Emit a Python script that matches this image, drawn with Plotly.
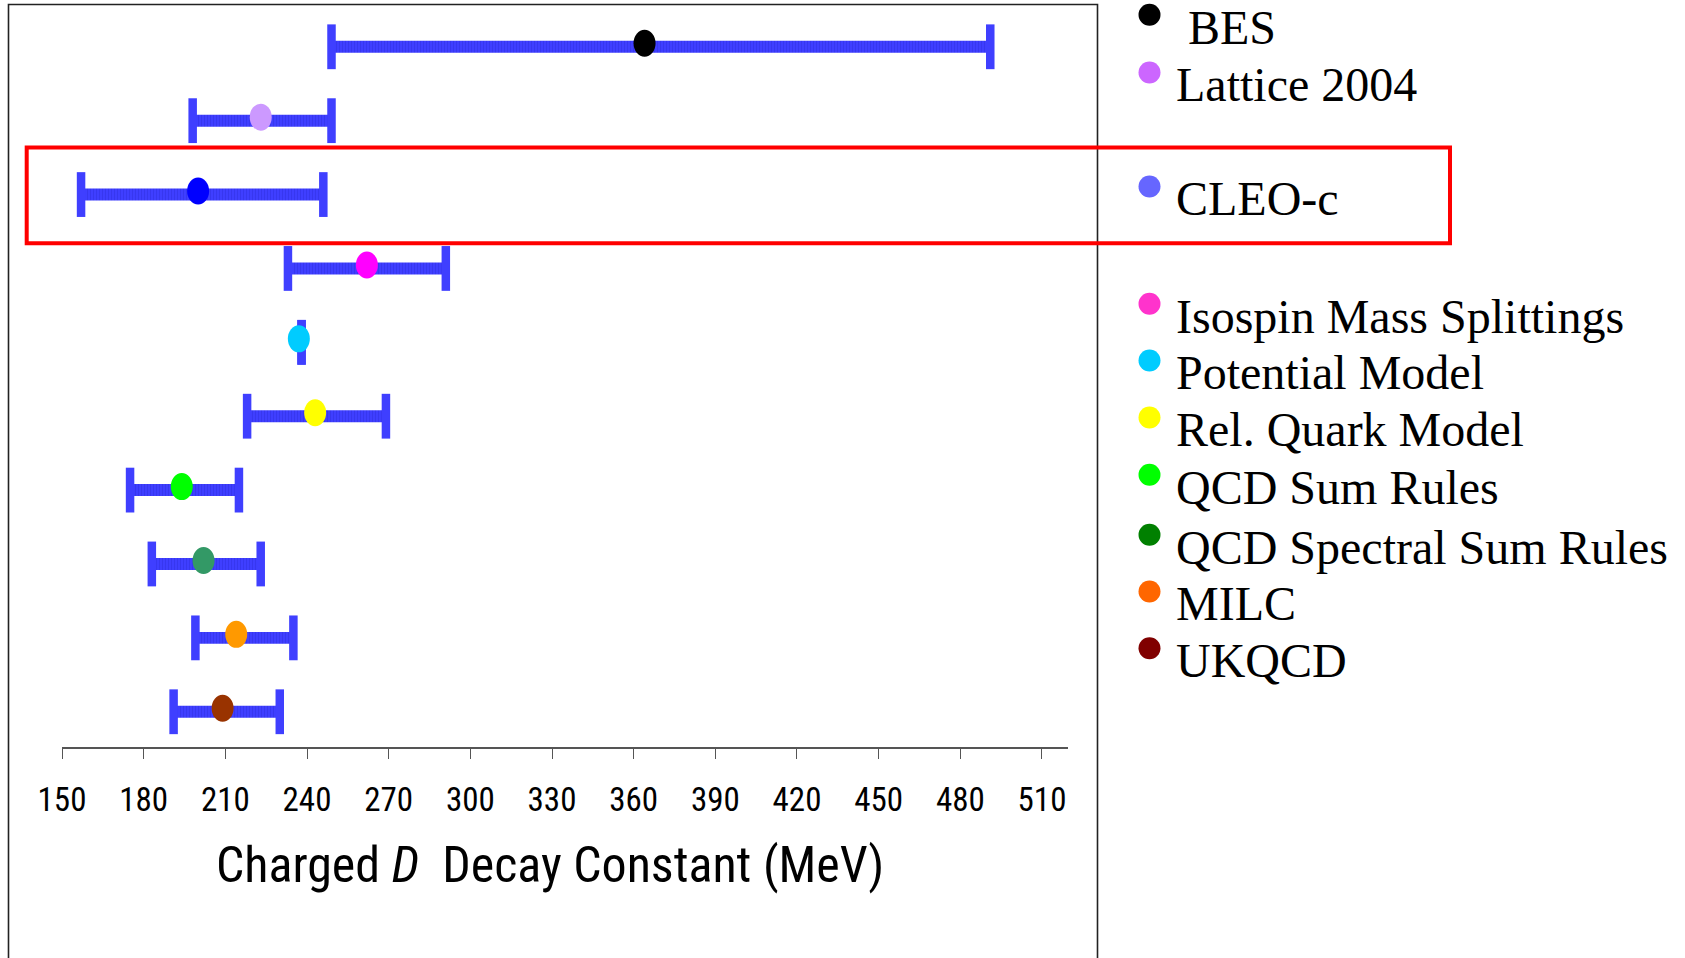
import plotly.graph_objects as go

# ---------------- data ----------------
methods = ["BES", "Lattice 2004", "CLEO-c", "Isospin Mass Splittings",
           "Potential Model", "Rel. Quark Model", "QCD Sum Rules",
           "QCD Spectral Sum Rules", "MILC", "UKQCD"]
central = [364, 223, 200, 262, 237, 243, 194, 202, 214, 209]
lower = [249, 198, 157, 233, 238, 218, 175, 183, 199, 191]
upper = [491, 249, 246, 291, 238, 269, 215, 223, 235, 230]
point_colors = ["#000000", "#CC99FF", "#0000FF", "#FF00FF", "#00CCFF",
                "#FFFF00", "#00FF00", "#339966", "#FF9900", "#993300"]
legend_colors = ["#000000", "#CC66FF", "#6666FF", "#FF33CC", "#00CCFF",
                 "#FFFF00", "#00FF00", "#008000", "#FF6600", "#800000"]
legend_labels = ["\u00a0BES", "Lattice 2004", "CLEO-c", "Isospin Mass Splittings",
                 "Potential Model", "Rel. Quark Model", "QCD Sum Rules",
                 "QCD Spectral Sum Rules", "MILC", "UKQCD"]
tick_values = list(range(150, 511, 30))
x_title = "Charged <i>D</i>\u00a0\u00a0Decay Constant (MeV)"

# ---------------- layout geometry ----------------
W, H = 1685, 958
L, R, T, B = 62, 1068, 4, 747
def px_x(p):
    return (p - L) / (R - L)
def px_y(p):
    return (B - p) / (B - T)

rows = list(range(len(methods)))
BAR_BLUE = "#3F3FFF"
SANS = "Roboto Condensed, Liberation Sans, Arial, sans-serif"
SERIF = "Liberation Serif, Times New Roman, serif"

fig = go.Figure()

# error-bar bodies (hatched blue bars)
fig.add_trace(go.Bar(
    y=rows, x=[u - l for l, u in zip(lower, upper)], base=lower,
    orientation="h", width=0.162,
    marker=dict(color=BAR_BLUE, line=dict(width=0),
                pattern=dict(shape="|", fgcolor="#3030E0", bgcolor=BAR_BLUE,
                             size=3, solidity=0.35)),
    hoverinfo="skip", showlegend=False,
))
# end caps
fig.add_trace(go.Scatter(
    x=lower + upper, y=rows + rows, mode="markers",
    marker=dict(symbol="line-ns", size=32, line=dict(width=8.5, color=BAR_BLUE)),
    hoverinfo="skip", showlegend=False,
))

shapes = []
# central values: vertical ellipses anchored at the data values
for i, (c, col) in enumerate(zip(central, point_colors)):
    shapes.append(dict(type="circle", xref="x", yref="y",
                       xsizemode="pixel", ysizemode="pixel",
                       xanchor=c, yanchor=rows[i],
                       x0=-11, x1=11, y0=-10, y1=17,
                       fillcolor=col, line=dict(width=0), layer="above"))
# outer frame (runs past the bottom of the page)
shapes.append(dict(type="rect", xref="paper", yref="paper",
                   x0=px_x(8.5), x1=px_x(1097.5), y0=px_y(1000), y1=px_y(4.5),
                   line=dict(color="#222222", width=1.6), fillcolor="rgba(0,0,0,0)"))
# red highlight box around CLEO-c
shapes.append(dict(type="rect", xref="paper", yref="paper",
                   x0=px_x(26.7), x1=px_x(1450), y0=px_y(243.3), y1=px_y(147.5),
                   line=dict(color="#FF0000", width=4), fillcolor="rgba(0,0,0,0)"))

# legend: bullets + serif labels
legend_baselines = [43.3, 101, 215, 332.3, 389, 446, 503.3, 563.3, 620, 676.7]
annotations = []
for lab, col, base in zip(legend_labels, legend_colors, legend_baselines):
    shapes.append(dict(type="circle", xref="paper", yref="paper",
                       xsizemode="pixel", ysizemode="pixel",
                       xanchor=px_x(1149.5), yanchor=px_y(base - 28.5),
                       x0=-11, x1=11, y0=-11, y1=11,
                       fillcolor=col, line=dict(width=0)))
    annotations.append(dict(text=lab, xref="paper", yref="paper",
                            x=px_x(1174), y=px_y(base - 16.2),
                            xanchor="left", yanchor="middle", showarrow=False,
                            font=dict(family=SERIF, size=48, color="black")))

# x-axis title
annotations.append(dict(text=x_title, xref="paper", yref="paper",
                        x=px_x(549.7), y=px_y(865), xanchor="center", yanchor="middle",
                        showarrow=False,
                        font=dict(family=SANS, size=50, color="black")))

fig.update_layout(
    width=W, height=H,
    margin=dict(l=L, r=W - R, t=T, b=H - B, pad=0, autoexpand=False),
    paper_bgcolor="white", plot_bgcolor="white",
    showlegend=False,
    shapes=shapes, annotations=annotations,
    xaxis=dict(range=[150, 150 + (R - L) / 2.7222], tickvals=tick_values,
               showline=True, linecolor="#555555", linewidth=1.5,
               ticks="outside", ticklen=10, tickwidth=1.3, tickcolor="#555555",
               tickfont=dict(family=SANS, size=33, color="black"),
               ticklabelstandoff=13,
               showgrid=False, zeroline=False, automargin=False, fixedrange=True),
    yaxis=dict(range=[9.477, -0.579], showticklabels=False, showline=False,
               showgrid=False, zeroline=False, ticks="", automargin=False,
               fixedrange=True),
)

fig.write_html("out.html")
